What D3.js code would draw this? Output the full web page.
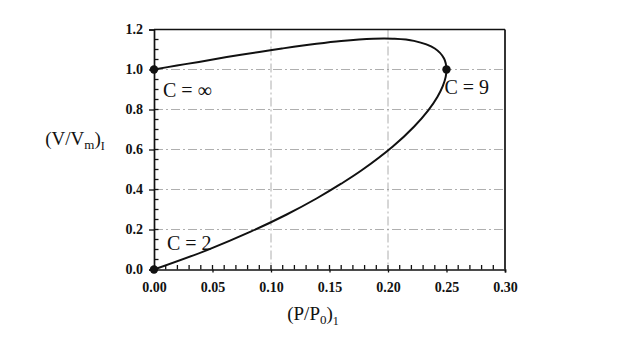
<!DOCTYPE html>
<html>
<head>
<meta charset="utf-8">
<script src="https://cdn.jsdelivr.net/npm/d3@7"></script>
<style>
  html, body { margin: 0; padding: 0; background: #fff; }
  svg { display: block; }
  text { font-family: "Liberation Serif", "Times New Roman", serif; fill: #111; }
</style>
</head>
<body>
<svg id="chart" width="619" height="340"></svg>
<script>
// Inflection-point locus: relative pressure vs. adsorbed amount
const pressure = [0, 0.0454, 0.0826, 0.1134, 0.1389, 0.160, 0.1775, 0.2041, 0.2222, 0.2344,
                  0.2422, 0.2469, 0.2493, 0.250, 0.2479, 0.240, 0.2222, 0.2041, 0.1875,
                  0.160, 0.1389, 0.1094, 0.090, 0.0622, 0.0384, 0.0196, 0];
const volume   = [0, 0.097, 0.189, 0.275, 0.355, 0.429, 0.496, 0.615, 0.714, 0.796,
                  0.863, 0.918, 0.963, 1.000, 1.055, 1.105, 1.143, 1.154, 1.154,
                  1.143, 1.129, 1.105, 1.088, 1.062, 1.038, 1.020, 1.000];

// Marked points and their C labels
const markX = [0, 0.25, 0];
const markY = [0, 1.0, 1.0];
const markLabels = ["C = 2", "C = 9", "C = \u221E"];

const xTicks = [0, 0.05, 0.10, 0.15, 0.20, 0.25, 0.30];
const yTicks = [0, 0.2, 0.4, 0.6, 0.8, 1.0, 1.2];
const xGrid = [0.10, 0.20];
const yGrid = [0.2, 0.4, 0.6, 0.8, 1.0];

const svg = d3.select("#chart");
const plotLeft = 154, plotRight = 505, plotTop = 29.5, plotBottom = 269.5;

const x = d3.scaleLinear().domain([0, 0.30]).range([plotLeft, plotRight]);
const y = d3.scaleLinear().domain([0, 1.2]).range([plotBottom, plotTop]);

// dash-dot grid
const grid = svg.append("g").attr("stroke", "#9a9a9a").attr("stroke-width", 0.8)
  .attr("stroke-dasharray", "9,3,2,3");
grid.selectAll("line.h").data(yGrid).join("line").attr("class", "h")
  .attr("x1", plotLeft).attr("x2", plotRight).attr("y1", d => y(d)).attr("y2", d => y(d));
grid.selectAll("line.v").data(xGrid).join("line").attr("class", "v")
  .attr("x1", d => x(d)).attr("x2", d => x(d)).attr("y1", plotTop).attr("y2", plotBottom);

// minor ticks pointing inward: every 0.01 on x, every 0.05 on y
const xMinor = d3.range(1, 30).map(i => i / 100);
const yMinor = d3.range(1, 24).map(i => i * 0.05);
const minor = svg.append("g").attr("stroke", "#111").attr("stroke-width", 1.3);
minor.selectAll("line.mx").data(xMinor).join("line").attr("class", "mx")
  .attr("x1", d => x(d)).attr("x2", d => x(d))
  .attr("y1", plotBottom).attr("y2", plotBottom - 4.5);
minor.selectAll("line.my").data(yMinor).join("line").attr("class", "my")
  .attr("x1", plotLeft).attr("x2", plotLeft + 4.5)
  .attr("y1", d => y(d)).attr("y2", d => y(d));

// major axes with labels
const xAxis = svg.append("g")
  .attr("transform", `translate(0,${plotBottom})`)
  .call(d3.axisBottom(x).tickValues(xTicks).tickSize(3).tickPadding(6).tickFormat(d3.format(".2f")));
const yAxis = svg.append("g")
  .attr("transform", `translate(${plotLeft},0)`)
  .call(d3.axisLeft(y).tickValues(yTicks).tickSize(5).tickPadding(6).tickFormat(d3.format(".1f")));
[xAxis, yAxis].forEach(g => {
  g.select(".domain").attr("stroke", "#111").attr("stroke-width", 1.7);
  g.selectAll(".tick line").attr("stroke", "#111").attr("stroke-width", 1.3);
  g.selectAll(".tick text").attr("font-size", 14).attr("font-weight", "bold")
    .attr("font-family", "'Liberation Serif', 'Times New Roman', serif").attr("fill", "#222");
});
xAxis.selectAll(".tick text").attr("dy", "0.95em");

// frame top and right
svg.append("line").attr("x1", plotLeft).attr("x2", plotRight).attr("y1", plotTop).attr("y2", plotTop)
  .attr("stroke", "#111").attr("stroke-width", 1.7);
svg.append("line").attr("x1", plotRight).attr("x2", plotRight).attr("y1", plotTop).attr("y2", plotBottom)
  .attr("stroke", "#111").attr("stroke-width", 1.7);

// curve
const pts = pressure.map((p, i) => [p, volume[i]]);
svg.append("path").datum(pts)
  .attr("fill", "none").attr("stroke", "#111").attr("stroke-width", 2)
  .attr("d", d3.line().x(d => x(d[0])).y(d => y(d[1])).curve(d3.curveCatmullRom.alpha(0.5)));

// marked points
svg.selectAll("circle.mark").data(markX).join("circle").attr("class", "mark")
  .attr("cx", d => x(d)).attr("cy", (d, i) => y(markY[i])).attr("r", 4.2).attr("fill", "#111");

// C labels
const labelOffsets = [[13, -19.5], [-2, 24], [9, 27]];
svg.selectAll("text.clabel").data(markLabels).join("text").attr("class", "clabel")
  .attr("x", (d, i) => x(markX[i]) + labelOffsets[i][0])
  .attr("y", (d, i) => y(markY[i]) + labelOffsets[i][1])
  .attr("font-size", 20).text(d => d);

// axis titles
const xt = svg.append("text").attr("x", 313).attr("y", 320).attr("text-anchor", "middle").attr("font-size", 19);
xt.append("tspan").text("(P/P");
xt.append("tspan").attr("font-size", 13).attr("dy", 4).text("0");
xt.append("tspan").attr("dy", -4).text(")");
xt.append("tspan").attr("font-size", 12).attr("dy", 5).text("1");

const yt = svg.append("text").attr("x", 75).attr("y", 145).attr("text-anchor", "middle").attr("font-size", 19);
yt.append("tspan").text("(V/V");
yt.append("tspan").attr("font-size", 13).attr("dy", 4).text("m");
yt.append("tspan").attr("dy", -4).text(")");
yt.append("tspan").attr("font-size", 12).attr("dy", 5).text("I");
</script>
</body>
</html>
